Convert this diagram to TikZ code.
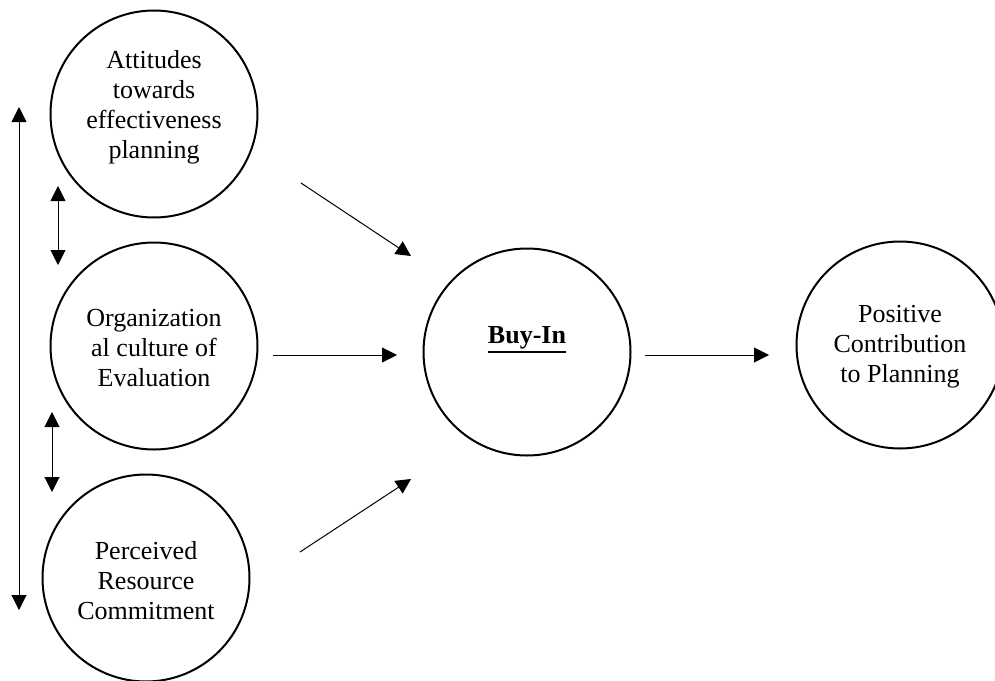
\documentclass[tikz,border=0pt]{standalone}
\usepackage{fontspec}
\setmainfont{Liberation Serif}
\usetikzlibrary{arrows.meta}
\begin{document}
\begin{tikzpicture}[x=1pt,y=-1pt,
  bubble/.style={draw, line width=2pt, circle, minimum size=207pt, inner sep=0pt},
  caption/.style={align=center, font=\fontsize{26}{30}\selectfont, inner sep=0pt},
  link/.style={line width=1pt, -{Triangle[length=15pt,width=15pt]}},
  twoway/.style={line width=1pt, {Triangle[length=15pt,width=15pt]}-{Triangle[length=15pt,width=15pt]}}]
  \useasboundingbox (0,0) rectangle (995,680);

  % circles
  \node[bubble] (att) at (154,114) {};
  \node[bubble] (org) at (154,346) {};
  \node[bubble] (res) at (146,578) {};
  \node[bubble] (buy) at (527,352) {};
  \node[bubble] (pos) at (900,345) {};

  % circle texts
  \node[caption] (attT) at (154,107) {Attitudes\\towards\\effectiveness\\planning};
  \node[caption] (orgT) at (154,348) {Organization\\al culture of\\Evaluation};
  \node[caption] (resT) at (146,581) {Perceived\\Resource\\Commitment};
  \node[caption, font=\fontsize{26}{30}\selectfont\bfseries] (buyT) at (527,338) {Buy-In};
  % thick underline of the Buy-In label
  \draw[line width=2pt] ([yshift=-2pt]buyT.south west) -- ([yshift=-2pt]buyT.south east);
  \node[caption] (posT) at (900,347) {Positive\\Contribution\\to Planning};

  % connector end points
  \coordinate (a1) at (301,183);  \coordinate (a2) at (411,256);
  \coordinate (b1) at (273,355);  \coordinate (b2) at (397,355);
  \coordinate (c1) at (300,552);  \coordinate (c2) at (411,479);
  \coordinate (d1) at (645,355);  \coordinate (d2) at (769,355);
  \coordinate (l1) at (19,107);   \coordinate (l2) at (19,610);
  \coordinate (s1) at (58,186);   \coordinate (s2) at (58,265);
  \coordinate (t1) at (52,412);   \coordinate (t2) at (52,492);

  % influence arrows
  \draw[link] (a1) -- (a2);
  \draw[link] (b1) -- (b2);
  \draw[link] (c1) -- (c2);
  \draw[link] (d1) -- (d2);

  % mutual relations between the three factors
  \draw[twoway] (l1) -- (l2);
  \draw[twoway] (s1) -- (s2);
  \draw[twoway] (t1) -- (t2);
\end{tikzpicture}
\end{document}
